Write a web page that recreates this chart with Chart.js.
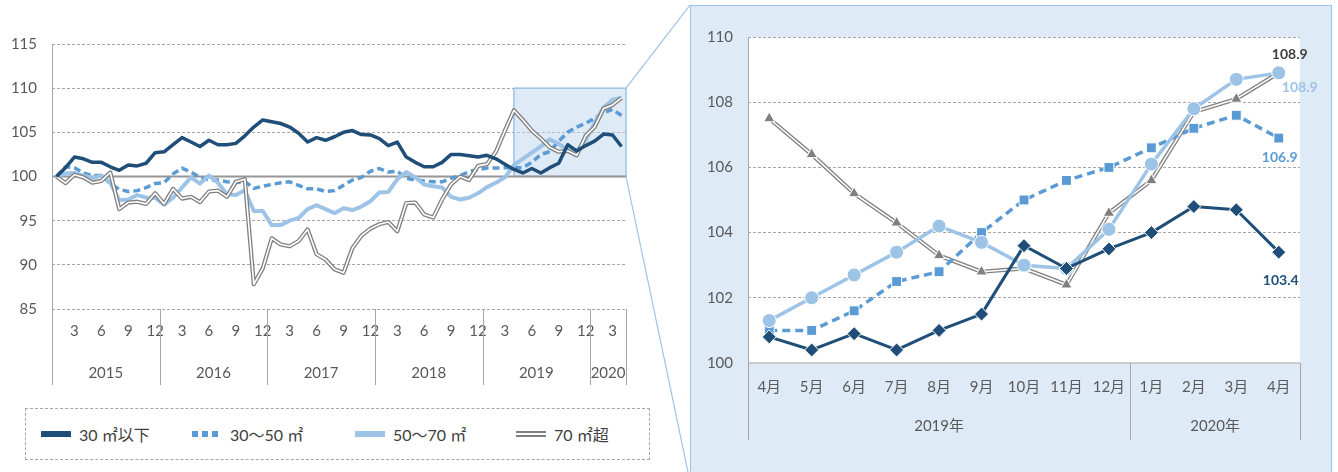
<!DOCTYPE html>
<html>
<head>
<meta charset="utf-8">
<script src="https://cdn.jsdelivr.net/npm/chart.js@4.4.0/dist/chart.umd.min.js"></script>
<style>
  body { margin: 0; background: #fff; width: 1338px; height: 472px; overflow: hidden; position: relative;
         font-family: Lato, "Noto Sans CJK JP", sans-serif; }
  #left { position: absolute; left: 0; top: 0; }
  #panel { position: absolute; left: 690px; top: 5px; width: 642px; height: 470px; background: #DEEBF7;
           border: 1px solid #9DC3E6; box-sizing: border-box; }
  #right { position: absolute; left: 690px; top: 0; }
  #legend { position: absolute; left: 25px; top: 408px; width: 625px; height: 52px; box-sizing: border-box;
            border: 1.5px dashed #A6A6A6; background: #fff; }
  #legend .item { position: absolute; top: 0; height: 49px; display: flex; align-items: center;
                  font-size: 16px; color: #404040; white-space: nowrap; }
  #legend .sw { display: inline-block; width: 30px; margin-right: 8px; box-sizing: border-box; }
</style>
</head>
<body>
<canvas id="left" width="690" height="472"></canvas>
<div id="panel"></div>
<canvas id="right" width="648" height="472"></canvas>
<div id="legend"></div>

<script>
// categories
const years = ["2015", "2016", "2017", "2018", "2019", "2020"];
const monthsInYear = [12, 12, 12, 12, 12, 4];
const zoomMonths = ["4月", "5月", "6月", "7月", "8月", "9月", "10月", "11月", "12月", "1月", "2月", "3月", "4月"];
const zoomYears = ["2019年", "2020年"];
const zoomYearSpan = [9, 4];
const zoomStart = 51; // 2019年4月

const seriesNames = ["30 ㎡以下", "30〜50 ㎡", "50〜70 ㎡", "70 ㎡超"];

// index values, 2015/1 = 100
const under30 = [
  100, 101.0, 102.2, 102.0, 101.6, 101.6, 101.1, 100.7, 101.3, 101.2, 101.5, 102.7,
  102.8, 103.6, 104.4, 103.9, 103.4, 104.1, 103.6, 103.6, 103.75, 104.6, 105.6, 106.4,
  106.2, 106.0, 105.6, 104.9, 103.9, 104.4, 104.1, 104.5, 105.0, 105.2, 104.75, 104.7,
  104.3, 103.5, 103.9, 102.2, 101.6, 101.1, 101.1, 101.6, 102.5, 102.5, 102.35, 102.2,
  102.4, 102.0, 101.4, 100.8, 100.4, 100.9, 100.4, 101.0, 101.5, 103.6, 102.9, 103.5,
  104.0, 104.8, 104.7, 103.4
];
const from30to50 = [
  100, 101.1, 101.0, 100.4, 100.1, 100.1, 99.2, 98.55, 98.3, 98.4, 98.75, 99.2,
  99.3, 100.3, 100.95, 100.5, 99.9, 99.6, 99.6, 99.4, 99.3, 99.45, 98.65, 98.9,
  99.1, 99.3, 99.4, 99.0, 98.6, 98.6, 98.3, 98.4, 99.0, 99.6, 99.9, 100.6,
  100.9, 100.5, 100.6, 99.8, 99.6, 99.5, 99.4, 99.4, 99.8, 100.1, 100.55, 100.8,
  100.95, 100.95, 101.0, 101.0, 101.0, 101.6, 102.5, 102.8, 104.0, 105.0, 105.6, 106.0,
  106.6, 107.2, 107.6, 106.9
];
const from50to70 = [
  100, 100.35, 100.4, 100.1, 99.8, 100.1, 99.3, 97.3, 97.4, 97.9, 97.6, 97.6,
  96.8, 97.6, 98.75, 99.9, 99.2, 100.1, 99.3, 98.0, 97.9, 98.45, 96.1, 96.1,
  94.5, 94.5, 95.0, 95.3, 96.3, 96.75, 96.3, 95.85, 96.4, 96.2, 96.6, 97.2,
  98.2, 98.25, 99.7, 100.5, 99.9, 99.1, 98.9, 98.75, 97.7, 97.4, 97.6, 98.1,
  98.8, 99.3, 99.9, 101.3, 102.0, 102.7, 103.4, 104.2, 103.7, 103.0, 102.9, 104.1,
  106.1, 107.8, 108.7, 108.9
];
const over70 = [
  100, 99.25, 100.2, 99.9, 99.3, 99.5, 100.45, 96.3, 97.05, 97.15, 96.9, 98.1,
  96.9, 98.6, 97.5, 97.7, 97.1, 98.3, 98.4, 97.7, 99.4, 99.7, 87.8, 89.6,
  93.0, 92.3, 92.1, 92.7, 94.0, 91.2, 90.6, 89.5, 89.1, 91.9, 93.3, 94.1,
  94.6, 94.85, 93.8, 97.0, 97.05, 95.7, 95.35, 97.4, 99.1, 100.0, 99.6, 101.2,
  101.4, 102.8, 105.2, 107.5, 106.4, 105.2, 104.3, 103.3, 102.8, 102.9, 102.4, 104.6,
  105.6, 107.7, 108.1, 108.9
];

const NAVY = "#1F4E79", MID = "#5B9BD5", LIGHT = "#9DC3E6", GRAY = "#808080";
const TXT = "#595959", GRID = "#A6A6A6";
Chart.defaults.font.family = 'Lato, "Noto Sans CJK JP", sans-serif';

// month number for each category of the long chart
const leftLabels = [], leftMonth = [];
years.forEach((y, k) => {
  for (let m = 1; m <= monthsInYear[k]; m++) { leftLabels.push(y + "/" + m); leftMonth.push(m); }
});

// ---------- left chart ----------
const leftDecor = {
  id: "leftDecor",
  beforeDatasetsDraw(chart) {
    const { ctx, chartArea: a, scales: { x, y } } = chart;
    ctx.save();
    // highlighted zoom region
    const rx = x.getPixelForValue(zoomStart), ry1 = y.getPixelForValue(110), ry0 = y.getPixelForValue(100);
    ctx.fillStyle = "rgba(189,215,238,0.5)";
    ctx.fillRect(rx, ry1, a.right - rx, ry0 - ry1);
    ctx.strokeStyle = LIGHT; ctx.lineWidth = 1.5;
    ctx.strokeRect(rx, ry1, a.right - rx, ry0 - ry1);
    // base line at 100
    ctx.strokeStyle = "#969696"; ctx.lineWidth = 2;
    ctx.beginPath(); ctx.moveTo(a.left, ry0); ctx.lineTo(a.right, ry0); ctx.stroke();
    ctx.restore();
  },
  afterDraw(chart) {
    const { ctx, chartArea: a, scales: { x, y } } = chart;
    ctx.save();
    ctx.strokeStyle = GRID; ctx.lineWidth = 1;
    ctx.beginPath(); ctx.moveTo(a.left + 0.5, a.top); ctx.lineTo(a.left + 0.5, a.bottom + 76); ctx.stroke();
    ctx.fillStyle = TXT; ctx.font = '15px Lato, "Noto Sans CJK JP", sans-serif';
    ctx.textAlign = "center"; ctx.textBaseline = "middle";
    let start = 0, prev = a.left;
    years.forEach((yr, k) => {
      const end = start + monthsInYear[k];
      const bx = end < leftLabels.length ? (x.getPixelForValue(end - 1) + x.getPixelForValue(end)) / 2 : a.right;
      ctx.beginPath(); ctx.moveTo(Math.round(bx) + 0.5, a.bottom); ctx.lineTo(Math.round(bx) + 0.5, a.bottom + 76); ctx.stroke();
      ctx.fillText(yr, (prev + bx) / 2, a.bottom + 64);
      prev = bx; start = end;
    });
    // link lines to the zoom panel
    const ry1 = y.getPixelForValue(110), ry0 = y.getPixelForValue(100);
    ctx.strokeStyle = LIGHT; ctx.lineWidth = 1.2;
    ctx.beginPath(); ctx.moveTo(a.right, ry1); ctx.lineTo(chart.width, 5); ctx.stroke();
    ctx.beginPath(); ctx.moveTo(a.right, ry0); ctx.lineTo(chart.width - 2, chart.height); ctx.stroke();
    ctx.restore();
  }
};

new Chart(document.getElementById("left"), {
  type: "line",
  data: {
    labels: leftLabels,
    datasets: [
      { data: under30, borderColor: NAVY, borderWidth: 3.5, order: 0 },
      { data: over70, borderColor: "#fff", borderWidth: 1.6, order: 1 },
      { data: over70, borderColor: GRAY, borderWidth: 4.2, order: 2 },
      { data: from50to70, borderColor: LIGHT, borderWidth: 4, order: 3 },
      { data: from30to50, borderColor: MID, borderWidth: 3.5, borderDash: [7, 4], order: 4 }
    ]
  },
  options: {
    responsive: false, animation: false,
    elements: { point: { radius: 0 }, line: { tension: 0, borderJoinStyle: "round" } },
    plugins: { legend: { display: false }, tooltip: { enabled: false } },
    layout: { padding: { left: 0, top: 44, right: 64, bottom: 0 } },
    scales: {
      x: {
        offset: true,
        grid: { display: false, drawTicks: false }, border: { display: false },
        ticks: { autoSkip: false, maxRotation: 0, padding: 13, color: TXT, font: { size: 15 },
                 callback: (v, i) => leftMonth[i] % 3 === 0 ? String(leftMonth[i]) : "" },
        afterFit: s => { s.height = 163; }
      },
      y: {
        min: 85, max: 115,
        ticks: { stepSize: 5, padding: 15, color: TXT, font: { size: 15 } },
        grid: { drawTicks: false, lineWidth: 1, color: c => c.tick && c.tick.value === 100 ? "rgba(0,0,0,0)" : GRID },
        border: { display: false, dash: [3, 2] },
        afterFit: s => { s.width = 52; }
      }
    }
  },
  plugins: [leftDecor]
});

// ---------- right (zoom) chart ----------
const zoomLabels = [
  { i: 1, color: "#404040", dx: 11, dy: -18 },
  { i: 2, color: LIGHT, dx: 21, dy: 15 },
  { i: 3, color: MID, dx: 1, dy: 19 },
  { i: 0, color: NAVY, dx: 2, dy: 28 }
];
const zoomSeries = [under30, over70, from50to70, from30to50];

const rightDecor = {
  id: "rightDecor",
  beforeDraw(chart) {
    const { ctx, chartArea: a } = chart;
    ctx.save(); ctx.fillStyle = "#fff";
    ctx.fillRect(a.left, a.top, a.right - a.left, a.bottom - a.top);
    ctx.restore();
  },
  afterDraw(chart) {
    const { ctx, chartArea: a, scales: { x } } = chart;
    ctx.save();
    ctx.strokeStyle = "#BFBFBF"; ctx.lineWidth = 1.5;
    ctx.beginPath(); ctx.moveTo(a.left, a.bottom); ctx.lineTo(a.right, a.bottom); ctx.stroke();
    ctx.strokeStyle = GRID; ctx.lineWidth = 1;
    ctx.beginPath(); ctx.moveTo(a.left + 0.5, a.top); ctx.lineTo(a.left + 0.5, a.bottom + 77); ctx.stroke();
    ctx.fillStyle = TXT; ctx.font = '15px Lato, "Noto Sans CJK JP", sans-serif';
    ctx.textAlign = "center"; ctx.textBaseline = "middle";
    let start = 0, prev = a.left;
    zoomYears.forEach((yr, k) => {
      const end = start + zoomYearSpan[k];
      const bx = end < zoomMonths.length ? (x.getPixelForValue(end - 1) + x.getPixelForValue(end)) / 2 : a.right;
      ctx.beginPath(); ctx.moveTo(Math.round(bx) + 0.5, a.bottom); ctx.lineTo(Math.round(bx) + 0.5, a.bottom + 77); ctx.stroke();
      ctx.fillText(yr, (prev + bx) / 2, a.bottom + 63);
      prev = bx; start = end;
    });
    // end value labels
    ctx.font = 'bold 14px Lato, "Noto Sans CJK JP", sans-serif';
    zoomLabels.forEach(l => {
      const data = zoomSeries[l.i].slice(zoomStart);
      const last = data.length - 1;
      const px = x.getPixelForValue(last), py = chart.scales.y.getPixelForValue(data[last]);
      ctx.fillStyle = l.color;
      ctx.fillText(data[last].toFixed(1), px + l.dx, py + l.dy);
    });
    ctx.restore();
  }
};

new Chart(document.getElementById("right"), {
  type: "line",
  data: {
    labels: zoomMonths,
    datasets: [
      { data: under30.slice(zoomStart), borderColor: NAVY, borderWidth: 3, pointStyle: "rectRot",
        pointRadius: 7, pointBackgroundColor: NAVY, pointBorderColor: "#fff", pointBorderWidth: 1, order: 0 },
      { data: from50to70.slice(zoomStart), borderColor: LIGHT, borderWidth: 3.5, pointStyle: "circle",
        pointRadius: 7, pointBackgroundColor: LIGHT, pointBorderColor: "#fff", pointBorderWidth: 1, order: 1 },
      { data: from30to50.slice(zoomStart), borderColor: MID, borderWidth: 3.5, borderDash: [8, 5], pointStyle: "rect",
        pointRadius: 7, pointBackgroundColor: MID, pointBorderColor: "#fff", pointBorderWidth: 1, order: 2 },
      { data: over70.slice(zoomStart), showLine: false, pointStyle: "triangle",
        pointRadius: 6.5, pointBackgroundColor: GRAY, pointBorderColor: "#fff", pointBorderWidth: 1, order: 3 },
      { data: over70.slice(zoomStart), borderColor: "#fff", borderWidth: 1.6, pointRadius: 0, order: 4 },
      { data: over70.slice(zoomStart), borderColor: GRAY, borderWidth: 4.2, pointRadius: 0, order: 5 }
    ]
  },
  options: {
    responsive: false, animation: false,
    elements: { line: { tension: 0, borderJoinStyle: "round" } },
    plugins: { legend: { display: false }, tooltip: { enabled: false } },
    layout: { padding: { left: 0, top: 37, right: 38, bottom: 0 } },
    scales: {
      x: {
        offset: true,
        grid: { display: false, drawTicks: false }, border: { display: false },
        ticks: { autoSkip: false, maxRotation: 0, padding: 15, color: TXT, font: { size: 15 } },
        afterFit: s => { s.height = 109; }
      },
      y: {
        min: 100, max: 110,
        ticks: { stepSize: 2, padding: 15, color: TXT, font: { size: 15 } },
        grid: { drawTicks: false, lineWidth: 1, color: c => c.tick && c.tick.value === 100 ? "rgba(0,0,0,0)" : GRID },
        border: { display: false, dash: [3, 2] },
        afterFit: s => { s.width = 58; }
      }
    }
  },
  plugins: [rightDecor]
});

// ---------- legend ----------
const legendSwatch = [
  "height:6px;background:" + NAVY,
  "height:6px;background:repeating-linear-gradient(to right," + MID + " 0 6px,transparent 6px 10px)",
  "height:6px;background:" + LIGHT,
  "height:6px;border-top:2px solid " + GRAY + ";border-bottom:2px solid " + GRAY
];
const legendLeft = [15, 166, 329, 490];
const legend = document.getElementById("legend");
seriesNames.forEach((name, i) => {
  const item = document.createElement("div");
  item.className = "item";
  item.style.left = legendLeft[i] + "px";
  const sw = document.createElement("i");
  sw.className = "sw";
  sw.style.cssText = legendSwatch[i];
  item.appendChild(sw);
  item.appendChild(document.createTextNode(name));
  legend.appendChild(item);
});
</script>
</body>
</html>
